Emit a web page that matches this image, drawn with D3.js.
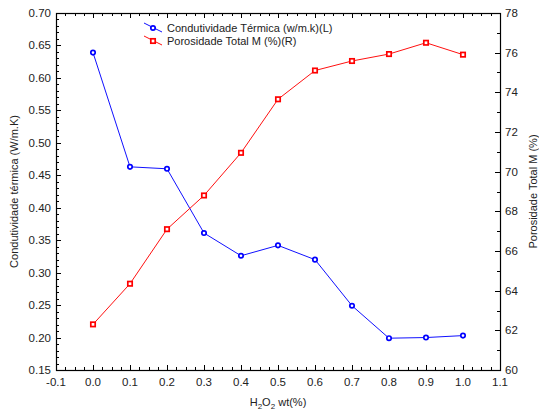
<!DOCTYPE html>
<html><head><meta charset="utf-8">
<script src="https://cdn.jsdelivr.net/npm/d3@7"></script>
<style>body{margin:0;background:#fff}svg{display:block}text{font-family:"Liberation Sans",Arial,sans-serif}</style>
</head><body><svg id="c" width="539" height="411"></svg>
<script>
const xValues = [0.0,0.1,0.2,0.3,0.4,0.5,0.6,0.7,0.8,0.9,1.0];
const conductivity = [0.639,0.463,0.460,0.361,0.326,0.342,0.320,0.249,0.199,0.200,0.203];
const porosity = [62.3,64.35,67.1,68.8,70.95,73.65,75.1,75.58,75.93,76.5,75.9];
const xTicks = [-0.1,0,0.1,0.2,0.3,0.4,0.5,0.6,0.7,0.8,0.9,1.0,1.1];
const yLeftTicks = [0.15,0.20,0.25,0.30,0.35,0.40,0.45,0.50,0.55,0.60,0.65,0.70];
const yRightTicks = [60,62,64,66,68,70,72,74,76,78];
const seriesNames = ["Condutividade Térmica (w/m.k)(L)","Porosidade Total M (%)(R)"];

const svg = d3.select("#c");
const L=56, R=500, T=13, B=370;
const x = d3.scaleLinear().domain([-0.1,1.1]).range([L,R]);
const yL = d3.scaleLinear().domain([0.15,0.70]).range([B,T]);
const yR = d3.scaleLinear().domain([60,78]).range([B,T]);
const tc = "#222";

const g = svg.append("g");
function tickLines(vals, fn){ vals.forEach(v=>{ const a=fn(v); g.append("line").attr("x1",a[0]).attr("y1",a[1]).attr("x2",a[2]).attr("y2",a[3]).attr("stroke","#000").attr("stroke-width",1);});}
const xMinor = d3.range(-0.1,1.1001,0.025);
tickLines(xMinor, v=>{const px=Math.round(x(v))+0.5; const isMaj=Math.abs(v*10-Math.round(v*10))<1e-6; const len=isMaj?5:3; return [px,B,px,B-len];});
tickLines(xMinor, v=>{const px=Math.round(x(v))+0.5; const isMaj=Math.abs(v*10-Math.round(v*10))<1e-6; const len=isMaj?5:3; return [px,T,px,T+len];});
const yMinor = d3.range(0.15,0.7001,0.01);
tickLines(yMinor, v=>{const py=Math.round(yL(v))+0.5; const isMaj=Math.abs(v*20-Math.round(v*20))<1e-6; const len=isMaj?5:3; return [L,py,L+len,py];});
const yRMinor = d3.range(60,78.001,1);
tickLines(yRMinor, v=>{const py=Math.round(yR(v))+0.5; const len=(v%2===0)?5:3; return [R,py,R-len,py];});

svg.append("rect").attr("x",L+0.5).attr("y",T+0.5).attr("width",R-L).attr("height",B-T).attr("fill","none").attr("stroke","#000").attr("stroke-width",1.2);

const fs = 11.5;
const fmt1 = d=>d3.format(".1f")(d).replace("\u2212","-");
svg.append("g").selectAll("text").data(xTicks).join("text")
 .attr("x",d=>x(d)).attr("y",B+16).attr("text-anchor","middle").attr("font-size",fs).attr("fill",tc).text(fmt1);
svg.append("g").selectAll("text").data(yLeftTicks).join("text")
 .attr("x",L-5).attr("y",d=>yL(d)+4).attr("text-anchor","end").attr("font-size",fs).attr("fill",tc).text(d=>d3.format(".2f")(d));
svg.append("g").selectAll("text").data(yRightTicks).join("text")
 .attr("x",R+5).attr("y",d=>yR(d)+4).attr("text-anchor","start").attr("font-size",fs).attr("fill",tc).text(d=>d);

svg.append("text").attr("transform",`translate(18,${(T+B)/2}) rotate(-90)`).attr("text-anchor","middle").attr("font-size",11).attr("fill",tc).text("Condutividade térmica (W/m.K)");
svg.append("text").attr("transform",`translate(537,${(T+B)/2}) rotate(-90)`).attr("text-anchor","middle").attr("font-size",11).attr("fill",tc).text("Porosidade Total M (%)");
const xt = svg.append("text").attr("x",278).attr("y",406).attr("text-anchor","middle").attr("font-size",11).attr("fill",tc);
xt.append("tspan").text("H");
xt.append("tspan").attr("font-size",8).attr("dy",3).text("2");
xt.append("tspan").attr("dy",-3).text("O");
xt.append("tspan").attr("font-size",8).attr("dy",3).text("2");
xt.append("tspan").attr("dy",-3).text(" wt(%)");

const lineL = d3.line().x((d,i)=>x(xValues[i])).y(d=>yL(d));
const lineR = d3.line().x((d,i)=>x(xValues[i])).y(d=>yR(d));
svg.append("path").attr("d",lineL(conductivity)).attr("fill","none").attr("stroke","#1010ff").attr("stroke-width",1);
svg.append("path").attr("d",lineR(porosity)).attr("fill","none").attr("stroke","#ff1010").attr("stroke-width",1);
svg.append("g").selectAll("circle").data(conductivity).join("circle")
 .attr("cx",(d,i)=>x(xValues[i])).attr("cy",d=>yL(d)).attr("r",2.2).attr("fill","#fff").attr("stroke","#0000ff").attr("stroke-width",1.7);
svg.append("g").selectAll("rect").data(porosity).join("rect")
 .attr("x",(d,i)=>x(xValues[i])-2.2).attr("y",d=>yR(d)-2.2).attr("width",4.4).attr("height",4.4).attr("fill","#fff").attr("stroke","#ff0000").attr("stroke-width",1.7);

const lg = svg.append("g");
const rows=[{c:"#0000ff",lc:"#1010ff",y:28,shape:"circle"},{c:"#ff0000",lc:"#ff1010",y:41,shape:"rect"}];
rows.forEach((r,i)=>{
  lg.append("line").attr("x1",144).attr("y1",r.y-5).attr("x2",162).attr("y2",r.y+4).attr("stroke",r.lc).attr("stroke-width",1);
  if(r.shape==="circle") lg.append("circle").attr("cx",153).attr("cy",r.y).attr("r",2.2).attr("fill","#fff").attr("stroke",r.c).attr("stroke-width",1.7);
  else lg.append("rect").attr("x",150.8).attr("y",r.y-2.2).attr("width",4.4).attr("height",4.4).attr("fill","#fff").attr("stroke",r.c).attr("stroke-width",1.7);
  lg.append("text").attr("x",167).attr("y",r.y+4).attr("font-size",11).attr("fill",tc).text(seriesNames[i]);
});
</script></body></html>
